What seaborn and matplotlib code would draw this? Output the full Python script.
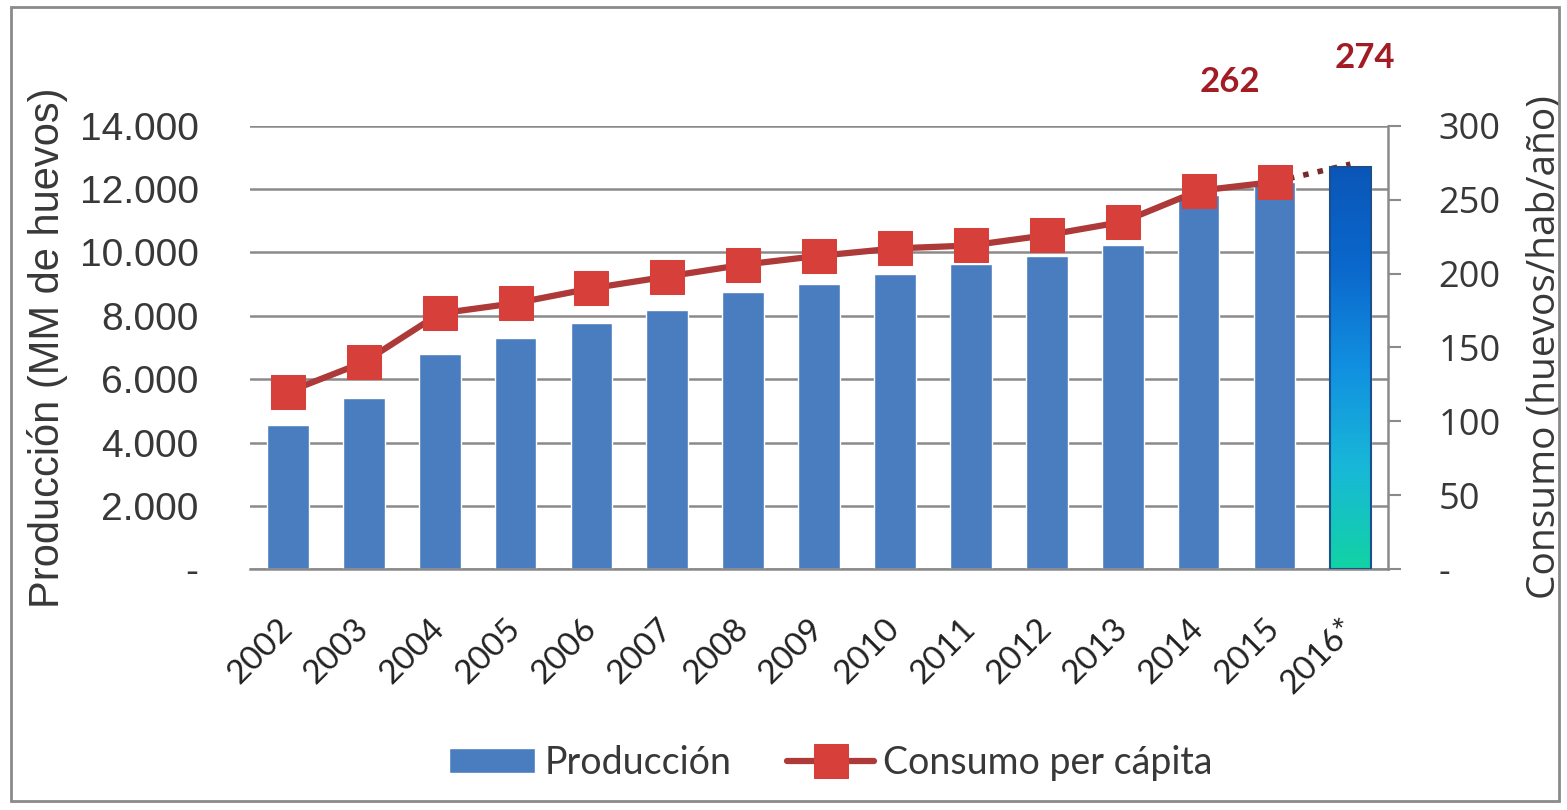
import numpy as np
import matplotlib
matplotlib.use("Agg")
import matplotlib.pyplot as plt
import matplotlib.patches as mpatches
from matplotlib.colors import LinearSegmentedColormap
import seaborn as sns

years = ["2002", "2003", "2004", "2005", "2006", "2007", "2008", "2009",
         "2010", "2011", "2012", "2013", "2014", "2015", "2016*"]
produccion = [4550, 5400, 6800, 7300, 7780, 8180, 8750, 9000,
              9330, 9650, 9900, 10230, 11800, 12230, 12700]
consumo = [120, 140, 173, 180, 190, 198, 206, 212, 217, 219, 226, 235, 256, 262]
consumo_2016 = 274

left_ticks = [0, 2000, 4000, 6000, 8000, 10000, 12000, 14000]
left_labels = ["-", "2.000", "4.000", "6.000", "8.000", "10.000", "12.000", "14.000"]
right_ticks = [0, 50, 100, 150, 200, 250, 300]
right_labels = ["-", "50", "100", "150", "200", "250", "300"]

bar_color = "#4a7dbf"
line_color = "#ad3938"
marker_color = "#d63f3a"
label_red = "#a11c25"
grid_color = "#8a8a8a"
text_color = "#383838"

sns.set_style("white")
plt.rcParams["font.family"] = ["Liberation Sans", "DejaVu Sans"]

fig = plt.figure(figsize=(15.67, 8.10), dpi=100)
ax = fig.add_axes([0.1595, 0.2972, 0.7265, 0.5476])
ax2 = ax.twinx()

# bars
sns.barplot(x=years, y=produccion, ax=ax, color=bar_color, saturation=1,
            width=0.55, label="Producción", zorder=2)
if ax.get_legend() is not None:
    ax.get_legend().remove()

# gradient for the 2016 estimate
last = ax.patches[-1]
x0, w, h = last.get_x(), last.get_width(), last.get_height()
grad = np.linspace(0, 1, 256).reshape(-1, 1)
cmap = LinearSegmentedColormap.from_list(
    "est", ["#12d3a4", "#18b8d8", "#1190e0", "#0b68cc", "#0a56b8"])
ax2.imshow(grad, extent=(x0, x0 + w, 0, h), transform=ax.transData,
           cmap=cmap, aspect="auto", origin="lower", zorder=5)
ax2.add_patch(mpatches.Rectangle((x0, 0), w, h, transform=ax.transData,
                                 fill=False, edgecolor="#1d4f8f", lw=1.5, zorder=6))

# consumption line
xs = np.arange(len(consumo))
sns.lineplot(x=[xs[-1], len(years) - 1], y=[consumo[-1], consumo_2016], ax=ax2,
             color="#7a2a2a", linestyle=":", linewidth=4, zorder=3)
sns.lineplot(x=xs, y=consumo, ax=ax2, color=line_color, linewidth=4.5,
             marker="s", markersize=24, markerfacecolor=marker_color,
             markeredgecolor=marker_color, label="Consumo per cápita",
             legend=False, zorder=7)

ax2.annotate(str(consumo[-1]), (xs[-1], consumo[-1]), xytext=(-45, 100),
             textcoords="offset pixels", ha="center", va="center",
             fontsize=25, fontweight="bold", color=label_red, family="Lato")
ax2.annotate(str(consumo_2016), (len(years) - 1, consumo_2016), xytext=(14, 106),
             textcoords="offset pixels", ha="center", va="center",
             fontsize=25, fontweight="bold", color=label_red, family="Lato")

# axes
ax.set_xlim(-0.5, len(years) - 0.5)
ax.set_ylim(0, 14000)
ax2.set_ylim(0, 300)
ax.set_yticks(left_ticks)
ax.set_yticklabels(left_labels, fontsize=28)
ax2.set_yticks(right_ticks)
ax2.set_yticklabels(right_labels, fontsize=26, family="Open Sans")
ax.set_xticks(range(len(years)))
ax.set_xticklabels(years, rotation=45, ha="right", va="center",
                   rotation_mode="anchor", fontsize=24, family="Lato")
ax.tick_params(axis="x", length=0, pad=39, colors="#222222")
ax.tick_params(axis="y", length=0, pad=37, colors=text_color)
ax2.tick_params(axis="y", length=9, width=1.5, pad=27, colors=text_color)
ax2.tick_params(axis="y", color=grid_color)

ax.yaxis.grid(True, color=grid_color, linewidth=1.8)
ax.set_axisbelow(True)
ax.set_xlabel("")
ax.set_ylabel("Producción (MM de huevos)", fontsize=30, labelpad=8, color=text_color)
ax2.set_ylabel("Consumo (huevos/hab/año)", fontsize=28, labelpad=18,
               color=text_color, family="Open Sans")

for s in ["left", "top"]:
    ax.spines[s].set_visible(False)
    ax2.spines[s].set_visible(False)
ax.spines["right"].set_visible(False)
ax.spines["bottom"].set_color(grid_color)
ax.spines["bottom"].set_linewidth(1.8)
ax2.spines["bottom"].set_visible(False)
ax2.spines["right"].set_color(grid_color)
ax2.spines["right"].set_linewidth(1.8)

# legend
h1, l1 = ax.get_legend_handles_labels()
h2, l2 = ax2.get_legend_handles_labels()
fig.legend(h1 + h2, l1 + l2, loc="center", bbox_to_anchor=(0.530, 0.058),
           ncol=2, frameon=False, prop={"family": "Lato", "size": 27},
           handlelength=2.3, handleheight=0.65, handletextpad=0.25,
           columnspacing=1.5, labelcolor=text_color)

fig.patches.append(mpatches.Rectangle((0.007, 0.011), 0.988, 0.98,
                                      transform=fig.transFigure, fill=False,
                                      edgecolor="#8a8a8a", lw=2))

fig.savefig("out.png", dpi=100)
